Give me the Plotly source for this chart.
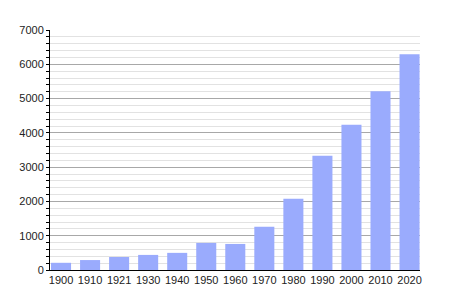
import plotly.graph_objects as go

years = ["1900", "1910", "1921", "1930", "1940", "1950", "1960", "1970", "1980", "1990", "2000", "2010", "2020"]
population = [210, 290, 380, 440, 500, 790, 760, 1260, 2080, 3330, 4240, 5210, 6290]
y_ticks = [0, 1000, 2000, 3000, 4000, 5000, 6000, 7000]

fig = go.Figure(go.Bar(
    x=years, y=population,
    marker=dict(color="#9aabfd", line=dict(width=0)),
    width=0.69,
))

fig.update_layout(
    width=450, height=300,
    margin=dict(l=50, r=30, t=30, b=30),
    paper_bgcolor="white", plot_bgcolor="white",
    font=dict(family="Liberation Sans, Arial, sans-serif", size=11, color="#222"),
    showlegend=False,
)
fig.update_xaxes(
    type="category", range=[-0.38, 12.36],
    showline=True, linecolor="black", linewidth=1,
    ticks="", showgrid=False, tickfont=dict(size=11),
)
fig.update_yaxes(
    range=[0, 7000], tickvals=y_ticks,
    showline=True, linecolor="black", linewidth=1,
    ticks="outside", ticklen=3, tickcolor="black",
    showgrid=True, gridcolor="#a8a8a8", gridwidth=1,
    minor=dict(dtick=200, showgrid=True, gridcolor="#e2e2e2", ticks="outside", ticklen=3, tickcolor="black"),
    zeroline=False, tickfont=dict(size=11),
)

fig.write_html("out.html")
